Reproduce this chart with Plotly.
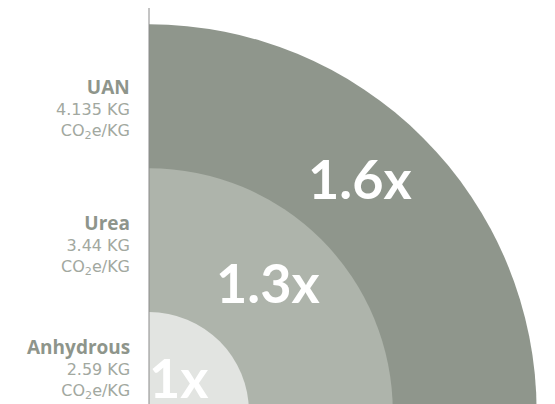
import plotly.graph_objects as go

# ---- data ----
products = ["UAN", "Urea", "Anhydrous"]
emissions = [4.135, 3.44, 2.59]          # KG CO2e / KG
multipliers = [1.6, 1.3, 1.0]            # relative to Anhydrous
colors = ["#8F968C", "#AEB4AB", "#E2E4E1"]

R0, R1 = 0.7915, 1.6341                  # radial axis range

fig = go.Figure()
for name, m, c in zip(products, multipliers, colors):
    fig.add_trace(go.Barpolar(
        r=[m - R0], base=[R0], theta=[45], width=[90], name=name,
        marker=dict(color=c, line=dict(width=0)), hoverinfo="skip",
    ))

W, H = 555, 404
ML, MR, MT, MB = 141, 10, 0, 0
# effective plot area (plotly adds 8px on left/top for the polar subplot)
EL, ET = ML + 8, MT + 8
EW, EH = W - EL - MR, H - ET - MB

def px(x, y):
    return (x - EL) / EW, (H - MB - y) / EH

annotations = []
# big multiplier labels
big_pos = [(356, 175), (266, 277), (178, 370)]
for m, (x, y) in zip(multipliers, big_pos):
    ax, ay = px(x, y)
    annotations.append(dict(
        x=ax, y=ay, xref="paper", yref="paper", xanchor="center", yanchor="middle",
        text=f"<b>{m:g}x</b>", showarrow=False,
        font=dict(family="Lato", size=54, color="white")))

# left labels
lab_pos = [141, 275, 396]
for name, e, y in zip(products, emissions, lab_pos):
    ax, ay = px(132, y)
    annotations.append(dict(
        x=ax, y=ay, xref="paper", yref="paper", xanchor="right", yanchor="bottom",
        align="right", showarrow=False,
        text=(f"<span style='color:#8E958B;font-family:Open Sans;font-size:19px'><b>{name}</b></span><br>"
              f"{e:g} KG<br>CO<sub>2</sub>e/KG"),
        font=dict(family="DejaVu Sans", size=16, color="#A2A89F")))

fig.update_layout(
    width=W, height=H,
    margin=dict(l=ML, r=MR, t=MT, b=MB, pad=0),
    paper_bgcolor="white", plot_bgcolor="white",
    showlegend=False,
    polar=dict(
        domain=dict(x=[0, 1], y=[0, 1]),
        sector=[0, 90], hole=0, bgcolor="white",
        barmode="overlay", bargap=0,
        radialaxis=dict(range=[R0, R1], angle=90, showline=True, linecolor="#8A8A8A",
                        linewidth=1, showgrid=False, showticklabels=False, ticks=""),
        angularaxis=dict(showline=False, showgrid=False, showticklabels=False, ticks=""),
    ),
    annotations=annotations,
)

fig.write_html("out.html")
